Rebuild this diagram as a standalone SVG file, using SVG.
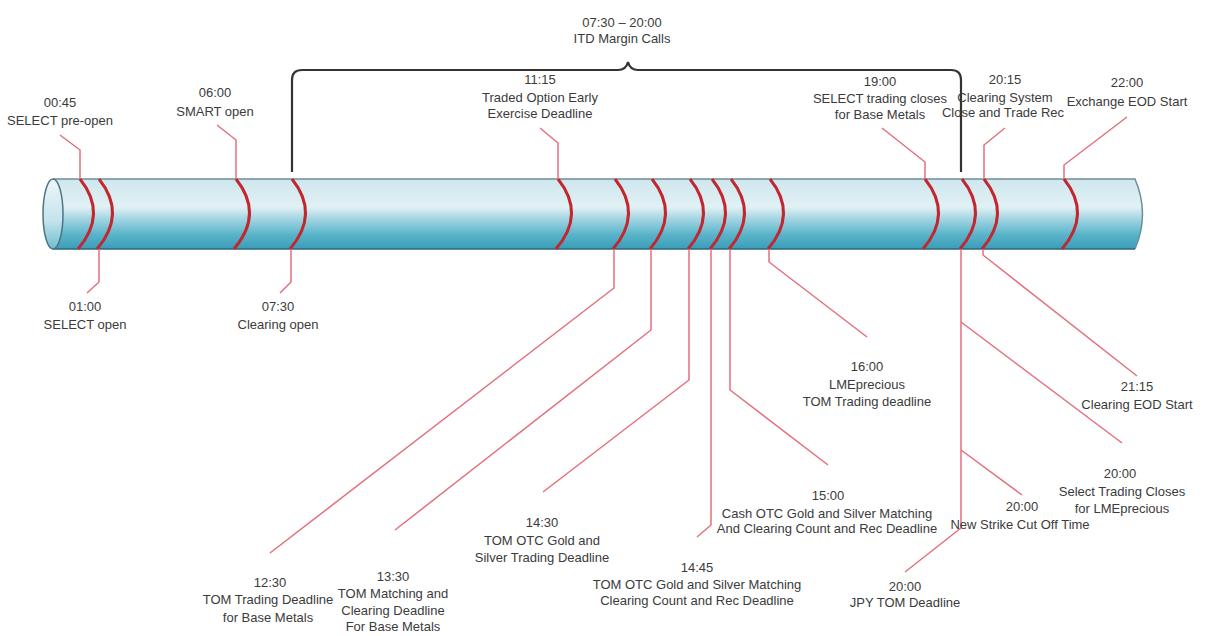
<svg xmlns="http://www.w3.org/2000/svg" width="1206" height="636" viewBox="0 0 1206 636">
<defs>
<linearGradient id="body" x1="0" y1="0" x2="0" y2="1">
<stop offset="0" stop-color="#cfe6ee"/>
<stop offset="0.4" stop-color="#e2f1f5"/>
<stop offset="0.55" stop-color="#a9d8e4"/>
<stop offset="0.8" stop-color="#58b3c9"/>
<stop offset="1" stop-color="#3a9db8"/>
</linearGradient>
<linearGradient id="cap" x1="0" y1="0" x2="0" y2="1">
<stop offset="0" stop-color="#eef7f9"/>
<stop offset="0.6" stop-color="#c3e3ec"/>
<stop offset="1" stop-color="#6fbdd0"/>
</linearGradient>
<style>
text{font-family:"Liberation Sans",Arial,sans-serif;font-size:13px;fill:#3b3b3b;text-anchor:middle}
.arc{fill:none;stroke:#c1272d;stroke-width:3}
.lead{fill:none;stroke:#e3707e;stroke-width:1.5}
.brace{fill:none;stroke:#333;stroke-width:2.2}
</style>
</defs>
<rect width="1206" height="636" fill="#fff"/>
<g id="cylinder">
<path d="M53 179 L1135 179 Q1150 214 1135 249 L53 249 Z" fill="url(#body)"/>
<path d="M53 179 L1135 179 Q1150 214 1135 249" fill="none" stroke="#6e8e98" stroke-width="1.5"/>
<path d="M53 249 L1135 249" fill="none" stroke="#2d6678" stroke-width="1.5"/>
<ellipse cx="53" cy="214" rx="10" ry="35" fill="url(#cap)" stroke="#4d7684" stroke-width="1.5"/>
</g>
<g id="arcs">
<path class="arc" d="M80 179 Q108 214 78 249"/>
<path class="arc" d="M99 179 Q127 214 97 249"/>
<path class="arc" d="M236 179 Q264 214 234 249"/>
<path class="arc" d="M292 179 Q320 214 290 249"/>
<path class="arc" d="M558 179 Q586 214 556 249"/>
<path class="arc" d="M615 179 Q643 214 613 249"/>
<path class="arc" d="M652 179 Q680 214 650 249"/>
<path class="arc" d="M690 179 Q718 214 688 249"/>
<path class="arc" d="M712 179 Q740 214 710 249"/>
<path class="arc" d="M731 179 Q759 214 729 249"/>
<path class="arc" d="M770 179 Q798 214 768 249"/>
<path class="arc" d="M925 179 Q953 214 923 249"/>
<path class="arc" d="M962 179 Q990 214 960 249"/>
<path class="arc" d="M984 179 Q1012 214 982 249"/>
<path class="arc" d="M1064 179 Q1092 214 1062 249"/>
</g>
<g id="connectors">
<path class="brace" d="M292 172 L292 80 Q292 70 302 70 L618 70 Q626 70 628 62 Q630 70 638 70 L951 70 Q961 70 961 80 L961 172"/>
<path class="lead" d="M60 135 L80 150 L80 179"/>
<path class="lead" d="M99 249 L99 282 L87 293"/>
<path class="lead" d="M217 125 L236 140 L236 179"/>
<path class="lead" d="M291 249 L291 282 L280 293"/>
<path class="lead" d="M540 128 L558 143 L558 179"/>
<path class="lead" d="M614 249 L614 288 L270 553"/>
<path class="lead" d="M651 249 L651 330 L395 530"/>
<path class="lead" d="M689 249 L689 380 L543 492"/>
<path class="lead" d="M711 249 L711 525 L697 537"/>
<path class="lead" d="M730 249 L730 390 L828 465"/>
<path class="lead" d="M769 249 L769 262 L867 337"/>
<path class="lead" d="M882 128 L925 162 L925 179"/>
<path class="lead" d="M961 249 L961 528 L905 572"/>
<path class="lead" d="M961 322 L1122 443"/>
<path class="lead" d="M961 450 L1022 495"/>
<path class="lead" d="M1005 128 L984 145 L984 179"/>
<path class="lead" d="M983 249 L983 255 L1137 376"/>
<path class="lead" d="M1127 117 L1064 165 L1064 179"/>
</g>
<g id="n-itd"><text x="622" y="27">07:30 – 20:00</text><text x="622" y="43">ITD Margin Calls</text></g>
<g id="n-0045"><text x="60" y="107">00:45</text><text x="60" y="125">SELECT pre-open</text></g>
<g id="n-0600"><text x="215" y="97">06:00</text><text x="215" y="116">SMART open</text></g>
<g id="n-1115"><text x="540" y="84">11:15</text><text x="540" y="102">Traded Option Early</text><text x="540" y="118">Exercise Deadline</text></g>
<g id="n-1900"><text x="880" y="86">19:00</text><text x="880" y="103">SELECT trading closes</text><text x="880" y="119">for Base Metals</text></g>
<g id="n-2015"><text x="1005" y="84">20:15</text><text x="1005" y="102">Clearing System</text><text x="1003" y="117">Close and Trade Rec</text></g>
<g id="n-2200"><text x="1127" y="87">22:00</text><text x="1127" y="106">Exchange EOD Start</text></g>
<g id="n-0100"><text x="85" y="311">01:00</text><text x="85" y="329">SELECT open</text></g>
<g id="n-0730"><text x="278" y="311">07:30</text><text x="278" y="329">Clearing open</text></g>
<g id="n-1230"><text x="270" y="587">12:30</text><text x="268" y="604">TOM Trading Deadline</text><text x="268" y="622">for Base Metals</text></g>
<g id="n-1330"><text x="393" y="581">13:30</text><text x="393" y="598">TOM Matching and</text><text x="393" y="615">Clearing Deadline</text><text x="393" y="631">For Base Metals</text></g>
<g id="n-1430"><text x="542" y="527">14:30</text><text x="542" y="545">TOM OTC Gold and</text><text x="542" y="562">Silver Trading Deadline</text></g>
<g id="n-1445"><text x="697" y="572">14:45</text><text x="697" y="589">TOM OTC Gold and Silver Matching</text><text x="697" y="605">Clearing Count and Rec Deadline</text></g>
<g id="n-1500"><text x="828" y="500">15:00</text><text x="827" y="518">Cash OTC Gold and Silver Matching</text><text x="827" y="533">And Clearing Count and Rec Deadline</text></g>
<g id="n-1600"><text x="867" y="371">16:00</text><text x="867" y="389">LMEprecious</text><text x="867" y="406">TOM Trading deadline</text></g>
<g id="n-2115"><text x="1137" y="391">21:15</text><text x="1137" y="409">Clearing EOD Start</text></g>
<g id="n-2000-select"><text x="1120" y="478">20:00</text><text x="1122" y="496">Select Trading Closes</text><text x="1122" y="513">for LMEprecious</text></g>
<g id="n-2000-strike"><text x="1022" y="511">20:00</text><text x="1020" y="529">New Strike Cut Off Time</text></g>
<g id="n-2000-jpy"><text x="905" y="591">20:00</text><text x="905" y="607">JPY TOM Deadline</text></g>
</svg>
